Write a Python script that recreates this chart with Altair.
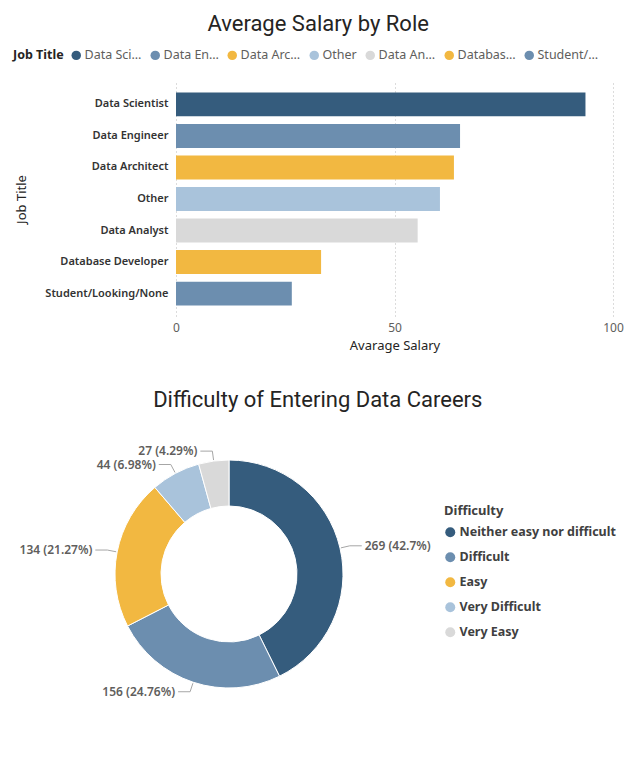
import altair as alt
import pandas as pd

# ---------------- data ----------------
job_titles = ["Data Scientist", "Data Engineer", "Data Architect", "Other",
              "Data Analyst", "Database Developer", "Student/Looking/None"]
avg_salary = [93.7, 65.0, 63.6, 60.4, 55.3, 33.2, 26.5]
job_colors = ["#355C7D", "#6C8EAF", "#F2B841", "#A9C3DB", "#D9D9D9", "#F2B841", "#6C8EAF"]

difficulty = ["Neither easy nor difficult", "Difficult", "Easy", "Very Difficult", "Very Easy"]
diff_counts = [269, 156, 134, 44, 27]
diff_colors = ["#355C7D", "#6C8EAF", "#F2B841", "#A9C3DB", "#D9D9D9"]

FONT = "Noto Sans"
TFONT = "Roboto"

# ---------------- bar chart ----------------
bar_df = pd.DataFrame({"Job Title": job_titles, "Avarage Salary": avg_salary})

bars = alt.Chart(
    bar_df,
    title=alt.Title("Average Salary by Role", font=TFONT, fontSize=22, fontWeight="normal",
                    color="#252423", anchor="middle", frame="bounds", offset=13),
).mark_bar().encode(
    y=alt.Y("Job Title:N", sort=job_titles,
            scale=alt.Scale(paddingInner=0.24, paddingOuter=0.33),
            axis=alt.Axis(domain=False, ticks=False, labelPadding=8, labelFont=FONT,
                          labelFontSize=11, labelFontWeight=600, labelColor="#333333",
                          labelLimit=200, title="Job Title", titleFont=FONT, titleFontSize=13,
                          titleFontWeight="normal", titleColor="#252423", titlePadding=16)),
    x=alt.X("Avarage Salary:Q", scale=alt.Scale(domain=[0, 100], nice=False),
            axis=alt.Axis(values=[0, 50, 100], grid=True, gridDash=[1, 3], gridColor="#B8B8B8",
                          domain=False, ticks=False, labelFlush=False, labelFont=FONT,
                          labelFontSize=12, labelColor="#605E5C", labelPadding=6,
                          title="Avarage Salary", titleFont=FONT, titleFontSize=13,
                          titleFontWeight="normal", titleColor="#252423", titlePadding=6)),
    color=alt.Color("Job Title:N", sort=job_titles,
                    scale=alt.Scale(domain=job_titles, range=job_colors),
                    legend=alt.Legend(orient="none", legendX=-163, legendY=-33,
                                      direction="horizontal", titleOrient="left",
                                      title="Job Title", titleFont=FONT, titleFontSize=12.5,
                                      titleFontWeight="bold", titleColor="#252423",
                                      titlePadding=6, symbolType="circle", symbolSize=90,
                                      symbolStrokeWidth=0, labelFont=FONT, labelFontSize=12.5,
                                      labelColor="#605E5C", labelLimit=63, labelOffset=2,
                                      columnPadding=7)),
).properties(width=437, height=234)

# ---------------- donut chart ----------------
diff_df = pd.DataFrame({"Difficulty": difficulty, "Count": diff_counts,
                        "order": list(range(len(difficulty)))})

CX, CY, R_OUT, R_IN = 53, 153, 114, 68

base = alt.Chart(diff_df).transform_joinaggregate(
    total="sum(Count)"
).transform_window(
    cum="sum(Count)", sort=[alt.SortField("order")], frame=[None, 0]
).transform_calculate(
    mid="(datum.cum - datum.Count / 2) / datum.total * 2 * PI",
    side="sin(datum.mid) >= 0 ? 1 : -1",
    label="format(datum.Count, 'd') + ' (' + format(datum.Count / datum.total * 100, '.2~f') + '%)'",
).transform_calculate(
    ax=f"{CX} + {R_OUT + 1} * sin(datum.mid)",
    ay=f"{CY} - {R_OUT + 1} * cos(datum.mid)",
    ex=f"{CX} + {R_OUT + 10} * sin(datum.mid)",
    ey=f"{CY} - {R_OUT + 10} * cos(datum.mid)",
).transform_calculate(
    hx="datum.ex + datum.side * 12",
    tx="datum.ex + datum.side * 15",
)

arcs = alt.Chart(diff_df).mark_arc(
    outerRadius=R_OUT, innerRadius=R_IN, stroke="white", strokeWidth=1
).encode(
    theta=alt.Theta("Count:Q", stack=True),
    order=alt.Order("order:Q"),
    x=alt.value(CX), y=alt.value(CY),
    color=alt.Color("Difficulty:N", sort=difficulty,
                    scale=alt.Scale(domain=difficulty, range=diff_colors),
                    legend=alt.Legend(orient="none", legendX=268, legendY=84,
                                      title="Difficulty", titleFont=FONT, titleFontSize=13,
                                      titleFontWeight="bold", titleColor="#404040",
                                      titlePadding=8, symbolType="circle", symbolSize=100,
                                      symbolStrokeWidth=0, labelFont=FONT, labelFontSize=12.5,
                                      labelFontWeight="bold", labelColor="#404040",
                                      labelOffset=3, rowPadding=12, labelLimit=300)),
)

leader1 = base.mark_rule(color="#A6A6A6", strokeWidth=1).encode(
    x=alt.X("ax:Q", scale=None), y=alt.Y("ay:Q", scale=None),
    x2="ex:Q", y2="ey:Q",
)
leader2 = base.mark_rule(color="#A6A6A6", strokeWidth=1).encode(
    x=alt.X("ex:Q", scale=None), y=alt.Y("ey:Q", scale=None),
    x2="hx:Q", y2="ey:Q",
)
label_r = base.transform_filter("datum.side > 0").mark_text(
    align="left", baseline="middle", font=FONT, fontSize=12, fontWeight=600, color="#605E5C"
).encode(x=alt.X("tx:Q", scale=None), y=alt.Y("ey:Q", scale=None), text="label:N")
label_l = base.transform_filter("datum.side < 0").mark_text(
    align="right", baseline="middle", font=FONT, fontSize=12, fontWeight=600, color="#605E5C"
).encode(x=alt.X("tx:Q", scale=None), y=alt.Y("ey:Q", scale=None), text="label:N")

donut = alt.layer(
    arcs, leader1, leader2, label_r, label_l,
    title=alt.Title("Difficulty of Entering Data Careers", font=TFONT, fontSize=22,
                    fontWeight="normal", color="#252423", anchor="middle", frame="bounds",
                    offset=9),
).properties(width=437, height=300)

chart = alt.vconcat(bars, donut, spacing=37).resolve_scale(
    color="independent"
).resolve_legend(
    color="independent"
).properties(background="white").configure_view(stroke=None)

chart.save("out.html", embed_options={"renderer": "svg", "actions": False})
